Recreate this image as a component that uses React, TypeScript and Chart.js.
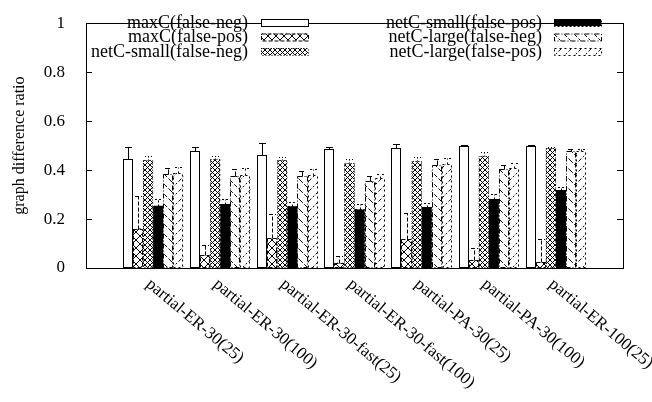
import React, { useEffect, useRef } from "react";
import { Chart, registerables } from "chart.js";

Chart.register(...registerables);

const categories = [
  "partial-ER-30(25)",
  "partial-ER-30(100)",
  "partial-ER-30-fast(25)",
  "partial-ER-30-fast(100)",
  "partial-PA-30(25)",
  "partial-PA-30(100)",
  "partial-ER-100(25)",
];

const seriesNames = [
  "maxC(false-neg)",
  "maxC(false-pos)",
  "netC-small(false-neg)",
  "netC-small(false-pos)",
  "netC-large(false-neg)",
  "netC-large(false-pos)",
];

const maxcFalseNeg = [0.446, 0.479, 0.462, 0.488, 0.492, 0.5, 0.498];
const maxcFalseNegErr = [0.05, 0.016, 0.047, 0.008, 0.013, 0.002, 0.003];
const maxcFalsePos = [0.161, 0.053, 0.122, 0.021, 0.118, 0.031, 0.025];
const maxcFalsePosErr = [0.133, 0.04, 0.097, 0.026, 0.108, 0.052, 0.093];
const smallFalseNeg = [0.44, 0.444, 0.44, 0.427, 0.436, 0.457, 0.489];
const smallFalseNegErr = [0.019, 0.015, 0.013, 0.02, 0.017, 0.018, 0.005];
const smallFalsePos = [0.254, 0.261, 0.252, 0.239, 0.249, 0.282, 0.319];
const smallFalsePosErr = [0.029, 0.022, 0.016, 0.022, 0.016, 0.022, 0.011];
const largeFalseNeg = [0.384, 0.377, 0.374, 0.355, 0.42, 0.403, 0.479];
const largeFalseNegErr = [0.023, 0.026, 0.023, 0.022, 0.024, 0.017, 0.009];
const largeFalsePos = [0.388, 0.379, 0.38, 0.366, 0.425, 0.407, 0.479];
const largeFalsePosErr = [0.024, 0.028, 0.023, 0.018, 0.024, 0.02, 0.006];

const yTicks = [0, 0.2, 0.4, 0.6, 0.8, 1];
const yTickLabels = ["0", "0.2", "0.4", "0.6", "0.8", "1"];

const values = [maxcFalseNeg, maxcFalsePos, smallFalseNeg, smallFalsePos, largeFalseNeg, largeFalsePos];
const errors = [maxcFalseNegErr, maxcFalsePosErr, smallFalseNegErr, smallFalsePosErr, largeFalseNegErr, largeFalsePosErr];

const dashes: number[][] = [[], [4, 2], [1, 2], [2, 2], [5, 2, 1, 2], [2, 3]];
const FONT = '"Liberation Serif", "DejaVu Serif", serif';

function makePattern(kind: number): CanvasPattern | string {
  if (kind === 0) return "#ffffff";
  if (kind === 3) return "#000000";
  const c = document.createElement("canvas");
  const s = kind === 1 ? 8 : kind === 2 ? 5 : 10;
  c.width = s;
  c.height = s;
  const g = c.getContext("2d")!;
  g.fillStyle = "#fff";
  g.fillRect(0, 0, s, s);
  g.strokeStyle = "#000";
  g.lineWidth = 1;
  if (kind === 1 || kind === 2) {
    g.beginPath();
    g.moveTo(0, 0);
    g.lineTo(s, s);
    g.moveTo(0, s);
    g.lineTo(s, 0);
    g.stroke();
    if (kind === 2) {
      g.fillStyle = "#000";
      g.fillRect(2, 2, 1, 1);
    }
  } else if (kind === 4) {
    g.setLineDash([4, 2]);
    g.beginPath();
    g.moveTo(0, 0);
    g.lineTo(s, s);
    g.stroke();
  } else if (kind === 5) {
    g.setLineDash([2, 2]);
    g.beginPath();
    g.moveTo(0, s);
    g.lineTo(s, 0);
    g.stroke();
  }
  return g.createPattern(c, "repeat")!;
}

export default function App() {
  const ref = useRef<HTMLCanvasElement | null>(null);

  useEffect(() => {
    document.body.style.margin = "0";
    const canvas = ref.current!;
    const fills = [0, 1, 2, 3, 4, 5].map(makePattern);

    const labels = ["", ...categories, ""];
    const datasets = values.map((v, i) => ({
      label: seriesNames[i],
      data: [null, ...v, null],
      backgroundColor: fills[i] as any,
      borderWidth: 0,
      categoryPercentage: 0.9,
      barPercentage: 1.0,
    }));

    const decor = {
      id: "decor",
      afterDatasetsDraw(chart: any) {
        const ctx = chart.ctx as CanvasRenderingContext2D;
        const ys = chart.scales.y;
        ctx.save();
        ctx.strokeStyle = "#000";
        ctx.lineWidth = 1;
        chart.data.datasets.forEach((ds: any, di: number) => {
          const meta = chart.getDatasetMeta(di);
          meta.data.forEach((el: any, idx: number) => {
            const v = ds.data[idx];
            if (v === null || v === undefined) return;
            const w = el.width;
            const l = Math.round(el.x - w / 2) + 0.5;
            const r = Math.round(el.x + w / 2) - 0.5;
            const t = Math.round(el.y) + 0.5;
            const b = Math.round(el.base) - 0.5;
            ctx.setLineDash(dashes[di]);
            ctx.strokeRect(l, t, r - l, b - t);
            const err = errors[di][idx - 1];
            const yTop = Math.round(ys.getPixelForValue(v + err)) + 0.5;
            const cx = Math.round(el.x) + 0.5;
            ctx.beginPath();
            ctx.moveTo(cx, t);
            ctx.lineTo(cx, yTop);
            ctx.moveTo(cx - 3.5, yTop);
            ctx.lineTo(cx + 3.5, yTop);
            ctx.stroke();
          });
        });
        ctx.setLineDash([]);
        const a = chart.chartArea;
        ctx.strokeRect(Math.round(a.left) + 0.5, Math.round(a.top) + 0.5, Math.round(a.right - a.left), Math.round(a.bottom - a.top));
        yTicks.forEach((tv) => {
          const py = Math.round(ys.getPixelForValue(tv)) + 0.5;
          ctx.beginPath();
          ctx.moveTo(a.left, py);
          ctx.lineTo(a.left + 6, py);
          ctx.moveTo(a.right, py);
          ctx.lineTo(a.right - 6, py);
          ctx.stroke();
        });
        // legend
        ctx.font = `18px ${FONT}`;
        ctx.fillStyle = "#000";
        ctx.textAlign = "right";
        ctx.textBaseline = "middle";
        const rowsY = [23, 37.5, 52];
        chart.data.datasets.forEach((ds: any, di: number) => {
          const col = di < 3 ? 0 : 1;
          const row = di % 3;
          const textRight = col === 0 ? 248 : 542;
          const boxL = col === 0 ? 261 : 554;
          const y = rowsY[row];
          ctx.fillStyle = "#000";
          ctx.fillText(ds.label, textRight, y);
          ctx.fillStyle = fills[di] as any;
          ctx.fillRect(boxL, y - 4, 47, 7);
          ctx.setLineDash(dashes[di]);
          ctx.strokeRect(boxL + 0.5, y - 4 + 0.5, 47, 7);
        });
        ctx.setLineDash([]);
        // x labels
        const xs = chart.scales.x;
        ctx.font = `17px ${FONT}`;
        ctx.fillStyle = "#000";
        ctx.textAlign = "left";
        ctx.textBaseline = "middle";
        categories.forEach((c, i) => {
          const px = xs.getPixelForValue(i + 1);
          ctx.save();
          ctx.translate(px - 5, a.bottom + 14);
          ctx.rotate((40 * Math.PI) / 180);
          ctx.fillText(c, 0, 0);
          ctx.restore();
        });
        // y title
        ctx.save();
        ctx.font = `16px ${FONT}`;
        ctx.textAlign = "center";
        ctx.textBaseline = "middle";
        ctx.translate(20, (a.top + a.bottom) / 2);
        ctx.rotate(-Math.PI / 2);
        ctx.fillText("graph difference ratio", 0, 0);
        ctx.restore();
        ctx.restore();
      },
    };

    const chart = new Chart(canvas, {
      type: "bar",
      data: { labels, datasets: datasets as any },
      options: {
        animation: false,
        responsive: false,
        maintainAspectRatio: false,
        layout: { padding: { left: 0, top: 11, right: 29, bottom: 134 } },
        plugins: { legend: { display: false }, tooltip: { enabled: false } },
        scales: {
          x: {
            type: "category",
            offset: false,
            grid: { display: false },
            border: { display: false },
            ticks: { display: false },
            afterFit: (s: any) => {
              s.height = 0;
            },
          },
          y: {
            min: 0,
            max: 1,
            grid: { display: false },
            border: { display: false },
            ticks: {
              stepSize: 0.2,
              padding: 13,
              color: "#000",
              font: { family: FONT, size: 17 },
              callback: (v: any) => {
                const i = yTicks.findIndex((t) => Math.abs(t - Number(v)) < 1e-6);
                return i >= 0 ? yTickLabels[i] : "";
              },
            },
            afterFit: (s: any) => {
              s.width = 86;
            },
          },
        },
      },
      plugins: [decor],
    });
    return () => chart.destroy();
  }, []);

  return (
    <div style={{ width: 652, height: 402, background: "#fff" }}>
      <canvas ref={ref} width={652} height={402} style={{ display: "block" }} />
    </div>
  );
}
